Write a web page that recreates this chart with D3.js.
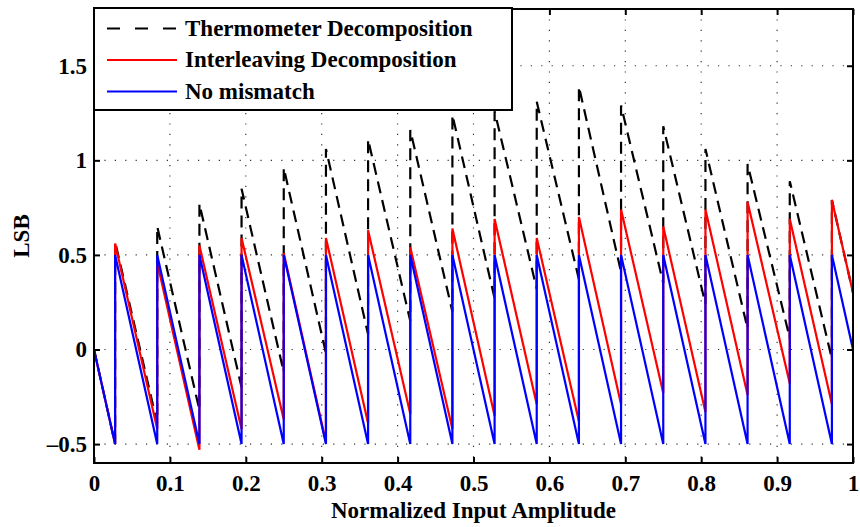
<!DOCTYPE html>
<html>
<head>
<meta charset="utf-8">
<script src="https://cdn.jsdelivr.net/npm/d3@7"></script>
<style>
    body { margin: 0; background: #fff; }
    svg { display: block; }
</style>
</head>
<body>
<svg id="svg" width="860" height="527"></svg>
<script>
//Data
const JUMP_X = [0.0278, 0.0833, 0.1389, 0.1944, 0.25, 0.3056, 0.3611, 0.4167, 0.4722,
                0.5278, 0.5833, 0.6389, 0.6944, 0.75, 0.8056, 0.8611, 0.9167, 0.9722];

const BLUE_START = 0;
const BLUE_LOW  = [-0.5, -0.5, -0.5, -0.5, -0.5, -0.5, -0.5, -0.5, -0.5, -0.5, -0.5, -0.5, -0.5, -0.5, -0.5, -0.5, -0.5, -0.5];
const BLUE_HIGH = [0.5, 0.5, 0.5, 0.5, 0.5, 0.5, 0.5, 0.5, 0.5, 0.5, 0.5, 0.5, 0.5, 0.5, 0.5, 0.5, 0.5, 0.5];
const BLUE_END = 0;

const RED_START = 0;
const RED_LOW  = [-0.5, -0.42, -0.53, -0.42, -0.37, -0.49, -0.39, -0.34, -0.42, -0.35, -0.29, -0.38, -0.29, -0.23, -0.33, -0.24, -0.18, -0.29];
const RED_HIGH = [0.56, 0.46, 0.55, 0.59, 0.51, 0.59, 0.63, 0.54, 0.64, 0.69, 0.59, 0.70, 0.74, 0.65, 0.74, 0.78, 0.69, 0.79];
const RED_END = 0.30;

const BLACK_START = 0;
const BLACK_LOW  = [-0.5, -0.39, -0.32, -0.2, -0.12, -0.02, 0.08, 0.15, 0.2, 0.27, 0.32, 0.37, 0.41, 0.35, 0.24, 0.11, 0.06, -0.05];
const BLACK_HIGH = [0.57, 0.65, 0.77, 0.85, 0.96, 1.06, 1.11, 1.16, 1.24, 1.26, 1.31, 1.39, 1.29, 1.18, 1.06, 0.98, 0.89, 0.79];
const BLACK_END = 0.30;

const X_TICKS = [0, 0.1, 0.2, 0.3, 0.4, 0.5, 0.6, 0.7, 0.8, 0.9, 1];
const X_TICK_LABELS = ["0", "0.1", "0.2", "0.3", "0.4", "0.5", "0.6", "0.7", "0.8", "0.9", "1"];
const Y_TICKS = [-0.5, 0, 0.5, 1, 1.5];
const Y_TICK_LABELS = ["\u20130.5", "0", "0.5", "1", "1.5"];

const LEGEND_LABELS = ["Thermometer Decomposition", "Interleaving Decomposition", "No mismatch"];

//Layout
const SVG_WIDTH = 860;
const SVG_HEIGHT = 527;
const MARGIN = { top: 9, right: 7, bottom: 64, left: 94 };
const PLOT_W = SVG_WIDTH - MARGIN.left - MARGIN.right;
const PLOT_H = SVG_HEIGHT - MARGIN.top - MARGIN.bottom;
const FONT = "'Liberation Serif', 'Times New Roman', serif";
const FONT_SIZE = 23;

function buildPoints(start, lows, highs, end)
{
    let pts = [[0, start]];
    for (let i = 0; i < JUMP_X.length; i++) {
        pts.push([JUMP_X[i], lows[i]]);
        pts.push([JUMP_X[i], highs[i]]);
    }
    pts.push([1, end]);
    return pts;
}

const SERIES = [
    { name: LEGEND_LABELS[0], color: "#000000", dash: "12,7", pts: buildPoints(BLACK_START, BLACK_LOW, BLACK_HIGH, BLACK_END) },
    { name: LEGEND_LABELS[1], color: "#ff0000", dash: null,   pts: buildPoints(RED_START, RED_LOW, RED_HIGH, RED_END) },
    { name: LEGEND_LABELS[2], color: "#0000ff", dash: null,   pts: buildPoints(BLUE_START, BLUE_LOW, BLUE_HIGH, BLUE_END) }
];

let svg = d3.select("#svg");
let g = svg.append("g").attr("transform", "translate(" + MARGIN.left + "," + MARGIN.top + ")");

let x_scale = d3.scaleLinear().domain([0, 1]).range([0, PLOT_W]);
let y_scale = d3.scaleLinear().domain([-0.6, 1.8]).range([PLOT_H, 0]);

//Grid (dotted)
g.append("g")
    .selectAll("line")
    .data(X_TICKS.slice(1, -1))
    .enter().append("line")
    .attr("x1", d => x_scale(d)).attr("x2", d => x_scale(d))
    .attr("y1", 0).attr("y2", PLOT_H)
    .attr("stroke", "#333").attr("stroke-width", 1.2)
    .attr("stroke-dasharray", "1.2,9.2");
g.append("g")
    .selectAll("line")
    .data(Y_TICKS)
    .enter().append("line")
    .attr("x1", 0).attr("x2", PLOT_W)
    .attr("y1", d => y_scale(d)).attr("y2", d => y_scale(d))
    .attr("stroke", "#333").attr("stroke-width", 1.2)
    .attr("stroke-dasharray", "1.2,9.2");

//Lines
let line = d3.line().x(d => x_scale(d[0])).y(d => y_scale(d[1]));
SERIES.forEach(s => {
    g.append("path")
        .datum(s.pts)
        .attr("d", line)
        .attr("fill", "none")
        .attr("stroke", s.color)
        .attr("stroke-width", 2.2)
        .attr("stroke-dasharray", s.dash);
});

//Axes (ticks inward on all four sides)
let x_axis = d3.axisBottom(x_scale).tickValues(X_TICKS)
    .tickFormat((d, i) => X_TICK_LABELS[i]).tickSizeInner(-6).tickSizeOuter(0).tickPadding(12);
let y_axis = d3.axisLeft(y_scale).tickValues(Y_TICKS)
    .tickFormat((d, i) => Y_TICK_LABELS[i]).tickSizeInner(-6).tickSizeOuter(0).tickPadding(7);
let x_top = d3.axisTop(x_scale).tickValues(X_TICKS).tickFormat("").tickSizeInner(-6).tickSizeOuter(0);
let y_right = d3.axisRight(y_scale).tickValues(Y_TICKS).tickFormat("").tickSizeInner(-6).tickSizeOuter(0);

let axes = [
    g.append("g").attr("transform", "translate(0," + PLOT_H + ")").call(x_axis),
    g.append("g").call(y_axis),
    g.append("g").call(x_top),
    g.append("g").attr("transform", "translate(" + PLOT_W + ",0)").call(y_right)
];
axes.forEach(a => {
    a.select(".domain").remove();
    a.selectAll("line").attr("stroke", "#000").attr("stroke-width", 2);
    a.selectAll("text")
        .attr("font-family", FONT)
        .attr("font-weight", "bold")
        .attr("font-size", FONT_SIZE)
        .attr("fill", "#000");
});

//Frame
g.append("rect")
    .attr("x", 0).attr("y", 0)
    .attr("width", PLOT_W).attr("height", PLOT_H)
    .attr("fill", "none")
    .attr("stroke", "#000")
    .attr("stroke-width", 2);

//Axis labels
svg.append("text")
    .attr("x", MARGIN.left + PLOT_W / 2)
    .attr("y", 518)
    .attr("text-anchor", "middle")
    .attr("font-family", FONT)
    .attr("font-weight", "bold")
    .attr("font-size", FONT_SIZE)
    .text("Normalized Input Amplitude");

svg.append("text")
    .attr("transform", "translate(29," + (MARGIN.top + PLOT_H / 2) + ") rotate(-90)")
    .attr("text-anchor", "middle")
    .attr("font-family", FONT)
    .attr("font-weight", "bold")
    .attr("font-size", FONT_SIZE)
    .text("LSB");

//Legend
let legend = svg.append("g");
legend.append("rect")
    .attr("x", 94).attr("y", 8)
    .attr("width", 418).attr("height", 102)
    .attr("fill", "#fff")
    .attr("stroke", "#000")
    .attr("stroke-width", 2);

SERIES.forEach((s, i) => {
    let cy = 28.5 + i * 31.5;
    legend.append("line")
        .attr("x1", 107).attr("x2", 177)
        .attr("y1", cy).attr("y2", cy)
        .attr("stroke", s.color)
        .attr("stroke-width", 2)
        .attr("stroke-dasharray", s.dash ? "13,15" : null);
    legend.append("text")
        .attr("x", 185)
        .attr("y", cy + 7.2)
        .attr("font-family", FONT)
        .attr("font-weight", "bold")
        .attr("font-size", FONT_SIZE)
        .text(s.name);
});
</script>
</body>
</html>
